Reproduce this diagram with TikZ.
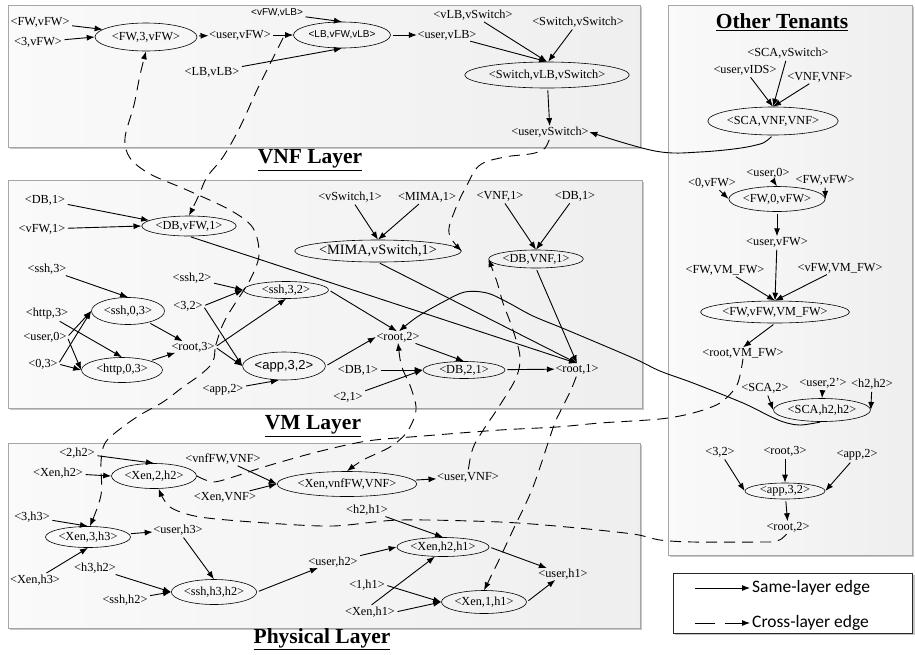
\documentclass[tikz,border=0pt]{standalone}
\usepackage{fontspec}
\setmainfont{Liberation Serif}
\newfontfamily\arialf{Liberation Sans}
\newfontfamily\calib{Carlito}
\usetikzlibrary{arrows.meta,shapes.geometric}
\tikzset{
 lbl/.style={inner sep=0.5pt, font=\fontsize{12.3}{13}\selectfont},
 ell/.style={ellipse, draw, line width=0.6pt, inner sep=0pt, font=\fontsize{12.3}{13}\selectfont},
 sansf/.style={font=\arialf\fontsize{10}{11}\selectfont},
 ed/.style={-{Latex[length=8pt,width=6pt]}, line width=0.9pt, shorten <=2pt},
 xl/.style={ed, dash pattern=on 11pt off 7pt},
 xlb/.style={{Latex[length=8pt,width=6pt]}-{Latex[length=8pt,width=6pt]}, line width=0.9pt, dash pattern=on 11pt off 7pt},
 xln/.style={line width=0.9pt, dash pattern=on 11pt off 7pt},
 layer/.style={left color=gray!4, right color=gray!13, draw=gray!70, line width=0.8pt},
 shd/.style={fill=gray!45},
 ttl/.style={font=\fontsize{21.5}{22}\selectfont\bfseries, inner sep=0pt},
}
\begin{document}
\begin{tikzpicture}[x=1pt,y=-1pt]
\useasboundingbox (0,0) rectangle (915,654);
% ---------- boxes ----------
\fill[shd] (10,7) rectangle (642,149);
\shade[layer] (8,5) rectangle (640,147);
\fill[shd] (10,182) rectangle (644,410);
\shade[layer] (8,180) rectangle (642,408);
\fill[shd] (10,445) rectangle (642,630);
\shade[layer] (8,443) rectangle (640,628);
\fill[shd] (670,7) rectangle (914,557);
\shade[layer] (668,5) rectangle (912,555);
\fill[shd] (675,575) rectangle (914.5,635);
\draw[draw=gray!30!black, line width=1pt, fill=white] (673,573) rectangle (912,633);
% ---------- titles ----------
\node[ttl] (tvnf) at (310,160) {\underline{VNF Layer}};
\node[ttl] (tvm) at (313,426) {\underline{VM Layer}};
\node[ttl] (tph) at (322,639) {\underline{Physical Layer}};
\node[ttl] (tot) at (782,22) {\underline{Other Tenants}};
% ---------- VNF layer ----------
\node[lbl] (fwvfw) at (40,22) {<FW,vFW>};
\node[lbl] (t3vfw) at (38,42) {<3,vFW>};
\node[ell, minimum width=102pt, minimum height=28pt] (fw3) at (146,37) {<FW,3,vFW>};
\node[lbl] (uvfw) at (240,35) {<user,vFW>};
\node[lbl, sansf] (vfwvlb) at (277,13) {<vFW,vLB>};
\node[lbl] (lbvlb) at (212,72) {<LB,vLB>};
\node[ell, sansf, minimum width=97pt, minimum height=26pt] (lb) at (342,35) {<LB,vFW,vLB>};
\node[lbl] (uvlb) at (447,35) {<user,vLB>};
\node[lbl] (vlbvsw) at (473,15) {<vLB,vSwitch>};
\node[lbl] (swvsw) at (578,22) {<Switch,vSwitch>};
\node[ell, minimum width=147pt, minimum height=26pt] (sw) at (547,75) {<Switch,vLB,vSwitch>};
\node[lbl] (uvsw) at (550,132) {<user,vSwitch>};
\draw[ed] (fwvfw) -- (fw3.170);
\draw[ed] (t3vfw) -- (fw3.west);
\draw[ed] (fw3) -- (uvfw);
\draw[ed] (uvfw) -- (lb);
\draw[ed] (vfwvlb) -- (lb.north);
\draw[ed] (lbvlb) -- (lb.south);
\draw[ed] (lb) -- (uvlb);
\draw[ed] (uvlb) -- (sw.north);
\draw[ed] (vlbvsw) -- (sw.north);
\draw[ed] (swvsw) -- (sw.85);
\draw[ed] (sw) -- (uvsw);
% ---------- VM layer ----------
\node[lbl] (db1a) at (45,200) {<DB,1>};
\node[lbl] (vfw1) at (42,229) {<vFW,1>};
\node[ell, minimum width=92pt, minimum height=20pt] (dbvfw1) at (189,226) {<DB,vFW,1>};
\node[lbl] (vsw1) at (350,197) {<vSwitch,1>};
\node[lbl] (mima1) at (427,197) {<MIMA,1>};
\node[lbl] (vnf1) at (500,196) {<VNF,1>};
\node[lbl] (db1b) at (575,196) {<DB,1>};
\node[ell, font=\fontsize{14.3}{15}\selectfont, minimum width=139pt, minimum height=22pt] (mima) at (378,251) {<MIMA,vSwitch,1>};
\node[ell, minimum width=88pt, minimum height=18pt] (dbvnf1) at (536,259) {<DB,VNF,1>};
\node[lbl] (ssh3) at (47,269) {<ssh,3>};
\node[ell, minimum width=73pt, minimum height=27pt] (ssh03) at (128,311) {<ssh,0,3>};
\node[lbl] (http3) at (47,314) {<http,3>};
\node[lbl] (user0) at (45,337) {<user,0>};
\node[lbl] (zero3) at (43,364) {<0,3>};
\node[ell, minimum width=81pt, minimum height=25pt] (http03) at (122,370) {<http,0,3>};
\node[lbl] (root3) at (193,347) {<root,3>};
\node[lbl] (ssh2) at (192,278) {<ssh,2>};
\node[lbl] (t32) at (188,306) {<3,2>};
\node[ell, minimum width=85pt, minimum height=17pt] (ssh32) at (286,290) {<ssh,3,2>};
\node[ell, font=\arialf\fontsize{13}{14}\selectfont, minimum width=82pt, minimum height=28pt] (app32) at (284,366) {<app,3,2>};
\node[lbl] (app2) at (223,390) {<app,2>};
\node[lbl] (root2) at (398,337) {<root,2>};
\node[lbl] (db1c) at (358,370) {<DB,1>};
\node[lbl] (t21) at (348,397) {<2,1>};
\node[ell, minimum width=82pt, minimum height=17pt] (db21) at (464,370) {<DB,2,1>};
\node[lbl] (root1) at (577,369) {<root,1>};
\draw[ed] (db1a) -- (dbvfw1.172);
\draw[ed] (vfw1) -- (dbvfw1.west);
\draw[ed] (dbvfw1.south) -- (root1.north);
\draw[ed] (mima.south) -- (root1.north);
\draw[ed] (dbvnf1.south) -- (root1.north);
\draw[ed] (vsw1) -- (mima.north);
\draw[ed] (mima1) -- (mima.north);
\draw[ed] (vnf1) -- (dbvnf1.north);
\draw[ed] (db1b) -- (dbvnf1.north);
\draw[ed] (ssh3) -- (ssh03.north);
\draw[ed] (http3) -- (http03.north);
\draw[ed] (user0.east) -- (ssh03.west);
\draw[ed] (zero3.east) -- (ssh03.west);
\draw[ed] (user0.east) -- (http03.west);
\draw[ed] (zero3.east) -- (http03.west);
\draw[ed] (ssh03) -- (root3);
\draw[ed] (http03) -- (root3);
\draw[ed] (ssh2) -- (ssh32.west);
\draw[ed] (t32.east) -- (ssh32.west);
\draw[ed] (t32.east) -- (app32.west);
\draw[ed] (root3.east) -- (ssh32.south);
\draw[ed] (root3.east) -- (app32.west);
\draw[ed] (app2) -- (app32.250);
\draw[ed] (ssh32.east) -- (root2.100);
\draw[ed] (app32.east) -- (root2.west);
\draw[ed] (root2) -- (db21.north);
\draw[ed] (db1c) -- (db21.west);
\draw[ed] (t21) -- (db21.west);
\draw[ed] (db21) -- (root1);
% ---------- Physical layer ----------
\node[lbl] (t2h2) at (77,453) {<2,h2>};
\node[lbl] (xenh2) at (58,473) {<Xen,h2>};
\node[ell, minimum width=85pt, minimum height=25pt] (xen2h2) at (154,476) {<Xen,2,h2>};
\node[lbl] (vnffwvnf) at (223,459) {<vnfFW,VNF>};
\node[lbl] (xenvnf) at (225,497) {<Xen,VNF>};
\node[ell, minimum width=127pt, minimum height=25pt] (xenvnffw) at (347,484) {<Xen,vnfFW,VNF>};
\node[lbl] (uvnf) at (468,477) {<user,VNF>};
\node[lbl] (t3h3) at (32,517) {<3,h3>};
\node[ell, minimum width=85pt, minimum height=21pt] (xen3h3) at (88,537) {<Xen,3,h3>};
\node[lbl] (xenh3) at (35,580) {<Xen,h3>};
\node[lbl] (uh3) at (178,530) {<user,h3>};
\node[lbl] (h3h2) at (95,568) {<h3,h2>};
\node[lbl] (sshh2) at (125,600) {<ssh,h2>};
\node[ell, minimum width=82pt, minimum height=25pt] (sshh3h2) at (214,592) {<ssh,h3,h2>};
\node[lbl] (uh2) at (333,562) {<user,h2>};
\node[lbl] (h2h1) at (367,510) {<h2,h1>};
\node[ell, minimum width=90pt, minimum height=19pt] (xenh2h1) at (443,547) {<Xen,h2,h1>};
\node[lbl] (uh1) at (563,574) {<user,h1>};
\node[lbl] (oneh1) at (367,585) {<1,h1>};
\node[lbl] (xenh1) at (370,612) {<Xen,h1>};
\node[ell, minimum width=85pt, minimum height=23pt] (xen1h1) at (484,602) {<Xen,1,h1>};
\draw[ed] (t2h2) -- (xen2h2.north);
\draw[ed] (xenh2) -- (xen2h2.west);
\draw[ed] (vnffwvnf) -- (xenvnffw.west);
\draw[ed] (xenvnf) -- (xenvnffw.west);
\draw[ed] (xenvnffw) -- (uvnf);
\draw[ed] (t3h3) -- (xen3h3.north);
\draw[ed] (xenh3) -- (xen3h3.south);
\draw[ed] (xen3h3) -- (uh3);
\draw[ed] (uh3) -- (sshh3h2.north);
\draw[ed] (h3h2) -- (sshh3h2.west);
\draw[ed] (sshh2) -- (sshh3h2.west);
\draw[ed] (sshh3h2.east) -- (uh2);
\draw[ed] (uh2) -- (xenh2h1.west);
\draw[ed] (h2h1) -- (xenh2h1.north);
\draw[ed] (xenh2h1.east) -- (uh1);
\draw[ed] (oneh1.east) -- (xen1h1.west);
\draw[ed] (xenh1.east) -- (xen1h1.west);
\draw[ed] (xenh1.north) -- (xenh2h1.230);
\draw[ed] (xen1h1.east) -- (uh1);
% ---------- Other tenants ----------
\node[lbl] (scavsw) at (788,53) {<SCA,vSwitch>};
\node[lbl] (uvids) at (745,70) {<user,vIDS>};
\node[lbl] (vnfvnf) at (820,77) {<VNF,VNF>};
\node[ell, minimum width=110pt, minimum height=28pt] (scavnf) at (773,121) {<SCA,VNF,VNF>};
\node[lbl] (zvfw) at (712,183) {<0,vFW>};
\node[lbl] (user0b) at (768,173) {<user,0>};
\node[lbl] (fwvfw2) at (825,180) {<FW,vFW>};
\node[ell, minimum width=95pt, minimum height=25pt] (fw0) at (777,199) {<FW,0,vFW>};
\node[lbl] (uvfw2) at (777,242) {<user,vFW>};
\node[lbl] (fwvmfw) at (725,270) {<FW,VM\_FW>};
\node[lbl] (vfwvmfw) at (840,268) {<vFW,VM\_FW>};
\node[ell, minimum width=135pt, minimum height=22pt] (fwvfwvm) at (775,312) {<FW,vFW,VM\_FW>};
\node[lbl] (rootvmfw) at (743,353) {<root,VM\_FW>};
\node[lbl] (sca2) at (765,388) {<SCA,2>};
\node[lbl] (user2p) at (823,383) {<user,2'>};
\node[lbl] (h2h2) at (872,384) {<h2,h2>};
\node[ell, minimum width=95pt, minimum height=23pt] (scah2) at (822,410) {<SCA,h2,h2>};
\node[lbl] (t32b) at (720,452) {<3,2>};
\node[lbl] (root3b) at (785,451) {<root,3>};
\node[lbl] (app2b) at (857,455) {<app,2>};
\node[ell, font=\fontsize{12.3}{13}\selectfont, minimum width=80pt, minimum height=16pt] (app32b) at (785,491) {<app,3,2>};
\node[lbl] (root2b) at (788,527) {<root,2>};
\draw[ed] (uvids) -- (scavnf.north);
\draw[ed] (scavsw) -- (scavnf.north);
\draw[ed] (vnfvnf) -- (scavnf.north);
\draw[ed] (zvfw) -- (fw0.west);
\draw[ed] (user0b) -- (fw0.north);
\draw[ed] (fwvfw2.south) -- (fw0.east);
\draw[ed] (fw0) -- (uvfw2);
\draw[ed] (uvfw2) -- (fwvfwvm.north);
\draw[ed] (fwvmfw) -- (fwvfwvm.north);
\draw[ed] (vfwvmfw) -- (fwvfwvm.north);
\draw[ed] (fwvfwvm.south) -- (rootvmfw.north);
\draw[ed] (sca2) -- (scah2.west);
\draw[ed] (user2p) -- (scah2.north);
\draw[ed] (h2h2) -- (scah2.east);
\draw[ed] (t32b) -- (app32b.west);
\draw[ed] (root3b) -- (app32b.north);
\draw[ed] (app2b) -- (app32b.east);
\draw[ed] (app32b) -- (root2b);
% ---------- long solid edges ----------
\draw[ed] plot[smooth, tension=0.6] coordinates {(scavnf.south) (752,146) (700,152) (655,151) (uvsw.east)};
\draw[ed] plot[smooth, tension=0.55] coordinates {(scah2.south) (787,423) (743,403) (693,383) (660,371) (633,358) (567,330) (533,316) (507,302) (487,293) (465,292) (443,302) (417,317) (root2.80)};
% ---------- cross-layer edges ----------
\coordinate (jv) at (284,36);
\draw[xl] plot[smooth, tension=0.6] coordinates {(jv) (273,58) (257,90) (240,127) (223,157) (207,177) (199,195) (dbvfw1.north)};
\draw[xl] plot[smooth, tension=0.6] coordinates {(uvsw.south) (538,152) (505,157) (480,165) (467,185) (455,210) (449,233) (mima.east)};
\draw[xl] plot[smooth, tension=0.55] coordinates {(root3.east) (224,322) (236,302) (250,280) (259,255) (253,228) (230,210) (187,190) (150,174) (130,158) (125,138) (134,105) (140,75) (fw3.south)};
\draw[xl] plot[smooth, tension=0.55] coordinates {(root3.east) (212,363) (200,375) (183,387) (163,402) (140,415) (120,429) (105,443) (101,462) (101,495) (xen3h3.80)};
\draw[xl] plot[smooth, tension=0.55] coordinates {(uvnf.north) (473,448) (482,432) (500,405) (516,378) (520,357) (513,330) (503,303) (497,282) (dbvnf1.west)};
\draw[xl] plot[smooth, tension=0.55] coordinates {(root1.south) (570,392) (560,412) (553,428) (533,487) (513,530) (498,562) (xen1h1.north)};
\draw[xlb] plot[smooth, tension=0.55] coordinates {(root2.south) (402,367) (411,388) (416,410) (407,432) (390,447) (363,460) (xenvnffw.north)};
\draw[xln] plot[smooth, tension=0.5] coordinates {(xen2h2.east) (213,482) (233,477) (267,466) (317,452) (367,441) (423,436) (500,430) (557,427) (600,423) (660,419) (693,413) (720,403) (737,385) (rootvmfw.south)};
\draw[xl] plot[smooth, tension=0.5] coordinates {(root2b.south) (777,541) (760,542) (693,542) (660,540) (633,534) (567,527) (500,522) (400,520) (333,526) (267,523) (200,517) (170,507) (xen2h2.290)};
% ---------- legend ----------
\coordinate (la) at (693,588);
\coordinate (lz) at (750,588);
\draw[ed] (la) -- (lz);
\node[font=\calib\fontsize{17.5}{18}\selectfont, anchor=west, inner sep=1pt] (lt1) at (751,588) {Same-layer edge};
\coordinate (lc) at (693,623);
\coordinate (ld) at (750,623);
\draw[ed, dash pattern=on 20pt off 10pt] (lc) -- (ld);
\node[font=\calib\fontsize{17.5}{18}\selectfont, anchor=west, inner sep=1pt] (lt2) at (751,623) {Cross-layer edge};
\end{tikzpicture}
\end{document}
